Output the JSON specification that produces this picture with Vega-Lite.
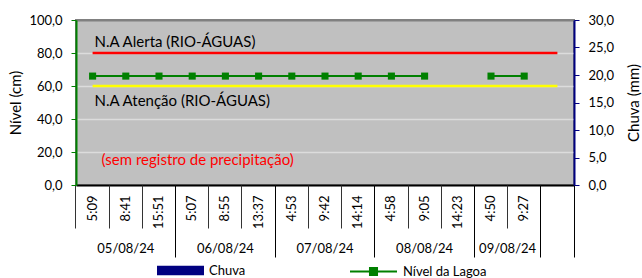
{
  "$schema": "https://vega.github.io/schema/vega-lite/v6.json",
  "width": 498,
  "height": 165,
  "autosize": "none",
  "padding": {"left": 76, "top": 20, "right": 68, "bottom": 93},
  "background": "white",
  "config": {
    "font": "Lato",
    "view": {"fill": "#c0c0c0", "stroke": "#808080", "strokeWidth": 2},
    "axis": {"labelFont": "Lato", "titleFont": "Lato", "labelFontSize": 13, "titleFontSize": 15, "labelColor": "#000", "titleColor": "#000", "titleFontWeight": "normal", "labelFlush": false, "labelOverlap": false},
    "legend": {"labelFont": "Lato", "labelFontSize": 13, "labelColor": "#000", "padding": 0}
  },
  "datasets": {
    "serie": [
      {"hora": "5:09", "dia": "05/08/24", "nivel": 66, "chuva": 0},
      {"hora": "8:41", "dia": "05/08/24", "nivel": 66, "chuva": 0},
      {"hora": "15:51", "dia": "05/08/24", "nivel": 66, "chuva": 0},
      {"hora": "5:07", "dia": "06/08/24", "nivel": 66, "chuva": 0},
      {"hora": "8:55", "dia": "06/08/24", "nivel": 66, "chuva": 0},
      {"hora": "13:37", "dia": "06/08/24", "nivel": 66, "chuva": 0},
      {"hora": "4:53", "dia": "07/08/24", "nivel": 66, "chuva": 0},
      {"hora": "9:42", "dia": "07/08/24", "nivel": 66, "chuva": 0},
      {"hora": "14:14", "dia": "07/08/24", "nivel": 66, "chuva": 0},
      {"hora": "4:58", "dia": "08/08/24", "nivel": 66, "chuva": 0},
      {"hora": "9:05", "dia": "08/08/24", "nivel": 66, "chuva": 0},
      {"hora": "14:23", "dia": "08/08/24", "nivel": null, "chuva": 0},
      {"hora": "4:50", "dia": "09/08/24", "nivel": 66, "chuva": 0},
      {"hora": "9:27", "dia": "09/08/24", "nivel": 66, "chuva": 0},
      {"hora": " ", "dia": "", "nivel": null, "chuva": null}
    ],
    "limites": [
      {"hora": "5:09", "alerta": 80, "atencao": 60},
      {"hora": " ", "alerta": 80, "atencao": 60}
    ],
    "notas": [
      {"hora": "5:09", "valor": 86.5, "texto": "N.A Alerta (RIO-ÁGUAS)"},
      {"hora": "5:09", "valor": 50.8, "texto": "N.A Atenção (RIO-ÁGUAS)"},
      {"hora": "5:09", "valor": 15.2, "texto": "(sem registro de precipitação)"}
    ]
  },
  "layer": [
    {
      "data": {"name": "serie"},
      "mark": {"type": "bar"},
      "encoding": {
        "x": {"field": "hora", "type": "ordinal", "sort": null,
          "scale": {"domain": ["5:09","8:41","15:51","5:07","8:55","13:37","4:53","9:42","14:14","4:58","9:05","14:23","4:50","9:27"," "], "paddingInner": 0, "paddingOuter": 0},
          "axis": {"orient": "bottom", "title": null, "labelAngle": 270, "labelAlign": "right", "labelBaseline": "middle", "labelPadding": 10, "ticks": false, "tickSize": 0, "domain": true, "domainColor": "#000", "domainWidth": 2, "grid": false}},
        "y": {"field": "chuva", "type": "quantitative", "scale": {"domain": [0, 30]},
          "axis": {"orient": "right", "title": "Chuva (mm)", "titleAngle": 270, "titleBaseline": "top", "titlePadding": 13, "values": [0,5,10,15,20,25,30], "labelExpr": "replace(format(datum.value,'.1f'),'.',',')", "domainColor": "#000080", "domainWidth": 2, "tickColor": "#000080", "tickSize": 5, "labelPadding": 9, "grid": false}},
        "fill": {"datum": "Chuva", "type": "nominal", "scale": {"range": ["#000080"]},
          "legend": {"title": null, "orient": "none", "legendX": 81, "legendY": 227, "symbolType": "M-1,-0.2H1V0.2H-1Z", "symbolSize": 2209, "symbolStrokeWidth": 0, "labelOffset": 5}}
      }
    },
    {
      "data": {"name": "limites"},
      "mark": {"type": "line", "color": "#ff0000", "strokeWidth": 2.5},
      "encoding": {
        "x": {"field": "hora", "type": "ordinal", "sort": null,
          "scale": {"domain": ["5:09","8:41","15:51","5:07","8:55","13:37","4:53","9:42","14:14","4:58","9:05","14:23","4:50","9:27"," "]},
          "axis": {"orient": "bottom", "title": null, "labels": false, "domain": false, "grid": false, "bandPosition": 0, "tickSize": 43, "tickColor": "#333", "tickWidth": 1}},
        "y": {"field": "alerta", "type": "quantitative", "scale": {"domain": [0, 100]}, "axis": null}
      }
    },
    {
      "data": {"name": "limites"},
      "mark": {"type": "line", "color": "#ffff00", "strokeWidth": 2.5},
      "encoding": {
        "x": {"field": "hora", "type": "ordinal", "sort": null,
          "scale": {"domain": ["5:09","8:41","15:51","5:07","8:55","13:37","4:53","9:42","14:14","4:58","9:05","14:23","4:50","9:27"," "]},
          "axis": {"orient": "bottom", "title": null, "labels": false, "domain": false, "grid": false, "values": ["15:51","13:37","14:14","14:23","9:27"," "], "bandPosition": 1, "tickSize": 72, "tickColor": "#000", "tickWidth": 1}},
        "y": {"field": "atencao", "type": "quantitative", "scale": {"domain": [0, 100]}, "axis": null}
      }
    },
    {
      "data": {"name": "serie"},
      "mark": {"type": "line", "strokeWidth": 2, "invalid": "break-paths-show-domains"},
      "encoding": {
        "x": {"field": "hora", "type": "ordinal", "sort": null,
          "scale": {"domain": ["5:09","8:41","15:51","5:07","8:55","13:37","4:53","9:42","14:14","4:58","9:05","14:23","4:50","9:27"," "]},
          "axis": {"orient": "bottom", "title": null, "labels": false, "domain": false, "grid": false, "values": ["5:09"], "bandPosition": 0, "tickSize": 72, "tickColor": "#000", "tickWidth": 1}},
        "y": {"field": "nivel", "type": "quantitative", "scale": {"domain": [0, 100]},
          "axis": {"orient": "left", "title": "Nível (cm)", "titlePadding": 5, "values": [0,20,40,60,80,100], "labelExpr": "replace(format(datum.value,'.1f'),'.',',')",
            "grid": true, "gridColor": {"condition": {"test": "datum.value == 100", "value": "#808080"}, "value": "#dcdcdc"}, "gridWidth": {"condition": {"test": "datum.value == 100", "value": 2}, "value": 1.5},
            "domainColor": "#008000", "domainWidth": 2, "tickColor": "#008000", "tickSize": 5, "labelPadding": 9}},
        "stroke": {"datum": "Nível da Lagoa", "type": "nominal", "scale": {"range": ["#008000"]},
          "legend": {"title": null, "orient": "none", "legendX": 273, "legendY": 227, "symbolType": "M-1,0H1M-0.15,-0.15H0.15V0.15H-0.15Z", "symbolSize": 2209, "symbolStrokeWidth": 2, "symbolFillColor": "#008000", "labelOffset": 5}}
      }
    },
    {
      "data": {"name": "serie"},
      "mark": {"type": "point", "shape": "square", "filled": true, "color": "#008000", "size": 50, "opacity": 1},
      "encoding": {
        "x": {"field": "hora", "type": "ordinal", "sort": null,
          "scale": {"domain": ["5:09","8:41","15:51","5:07","8:55","13:37","4:53","9:42","14:14","4:58","9:05","14:23","4:50","9:27"," "]},
          "axis": {"orient": "bottom", "title": null, "ticks": false, "tickSize": 0, "domain": false, "grid": false, "values": ["8:41","8:55","9:42","9:05"], "labelAngle": 0, "labelAlign": "center", "labelBaseline": "middle", "labelPadding": 63,
            "labelExpr": "datum.value == '8:41' ? '05/08/24' : datum.value == '8:55' ? '06/08/24' : datum.value == '9:42' ? '07/08/24' : '08/08/24'"}},
        "y": {"field": "nivel", "type": "quantitative", "scale": {"domain": [0, 100]}, "axis": null}
      }
    },
    {
      "data": {"name": "notas"},
      "transform": [{"filter": "datum.texto == 'N.A Alerta (RIO-ÁGUAS)'"}],
      "mark": {"type": "text", "align": "left", "baseline": "middle", "dx": 2, "fontSize": 15, "font": "Lato", "color": "#000"},
      "encoding": {
        "x": {"field": "hora", "type": "ordinal", "sort": null,
          "scale": {"domain": ["5:09","8:41","15:51","5:07","8:55","13:37","4:53","9:42","14:14","4:58","9:05","14:23","4:50","9:27"," "]},
          "axis": {"orient": "bottom", "title": null, "ticks": false, "tickSize": 0, "domain": false, "grid": false, "values": ["9:27"], "labelOffset": -16.6, "labelAngle": 0, "labelAlign": "center", "labelBaseline": "middle", "labelPadding": 63, "labelExpr": "'09/08/24'"}},
        "y": {"field": "valor", "type": "quantitative", "scale": {"domain": [0, 100]}, "axis": null},
        "text": {"field": "texto"}
      }
    },
    {
      "data": {"name": "notas"},
      "transform": [{"filter": "datum.texto == 'N.A Atenção (RIO-ÁGUAS)'"}],
      "mark": {"type": "text", "align": "left", "baseline": "middle", "dx": 2, "fontSize": 15, "font": "Lato", "color": "#000"},
      "encoding": {
        "x": {"field": "hora", "type": "ordinal", "sort": null,
          "scale": {"domain": ["5:09","8:41","15:51","5:07","8:55","13:37","4:53","9:42","14:14","4:58","9:05","14:23","4:50","9:27"," "]}, "axis": null},
        "y": {"field": "valor", "type": "quantitative", "scale": {"domain": [0, 100]}, "axis": null},
        "text": {"field": "texto"}
      }
    },
    {
      "data": {"name": "notas"},
      "transform": [{"filter": "datum.texto == '(sem registro de precipitação)'"}],
      "mark": {"type": "text", "align": "left", "baseline": "middle", "dx": 9, "fontSize": 15, "font": "Lato", "color": "#ff0000"},
      "encoding": {
        "x": {"field": "hora", "type": "ordinal", "sort": null,
          "scale": {"domain": ["5:09","8:41","15:51","5:07","8:55","13:37","4:53","9:42","14:14","4:58","9:05","14:23","4:50","9:27"," "]}, "axis": null},
        "y": {"field": "valor", "type": "quantitative", "scale": {"domain": [0, 100]}, "axis": null},
        "text": {"field": "texto"}
      }
    }
  ],
  "resolve": {"scale": {"y": "independent"}, "axis": {"x": "independent", "y": "independent"}}
}
